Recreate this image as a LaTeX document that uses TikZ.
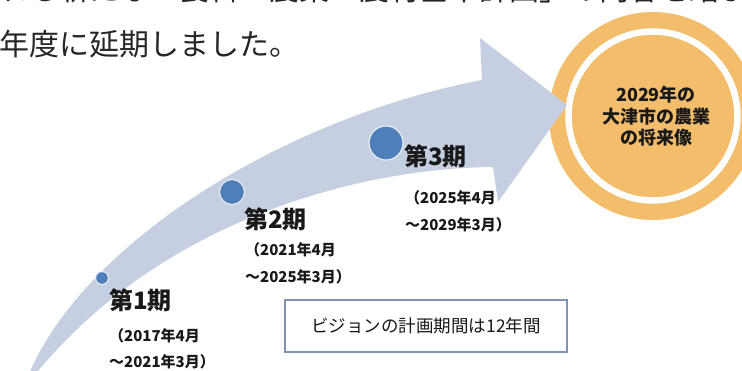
\documentclass[tikz,border=0pt]{standalone}
\usepackage{fontspec}
\setmainfont{Noto Sans CJK JP}
\definecolor{arrowc}{RGB}{197,207,225}
\definecolor{dotc}{RGB}{79,127,186}
\definecolor{orangec}{RGB}{244,189,108}
\definecolor{boxc}{RGB}{128,148,178}
\definecolor{txtc}{RGB}{25,25,25}
\tikzset{
  lbl/.style={anchor=west,inner sep=0pt,text=txtc},
  ttl/.style={lbl,font=\bfseries\fontsize{24}{24}\selectfont},
  dt/.style={lbl,font=\bfseries\fontsize{15}{15}\selectfont},
  dotst/.style={circle,fill=dotc,draw=white!85!dotc,line width=1.2pt,inner sep=0pt},
  toptxt/.style={lbl,text=black!85,font=\fontsize{30}{30}\selectfont}
}
\begin{document}
\begin{tikzpicture}[x=1pt,y=-1pt]
\useasboundingbox (0,0) rectangle (742,371);
\clip (0,0) rectangle (742,371);
\fill[white] (0,0) rectangle (742,371);
% top text
\node[toptxt] (top1) at (-1,-11) {れる新たな「食料・農業・農村基本計画」の内容を踏まえ};
\node[toptxt] (top2) at (-1,44) {年度に延期しました。};
% goal circle
\node[circle,fill=orangec,minimum size=208pt,inner sep=0pt] (goal) at (653,116) {};
\draw[white,line width=6.5pt] (goal.center) circle[radius=84.5];
% arrow
\fill[arrowc] (28,376) .. controls (85,240) and (288,117) .. (482,80)
  -- (480,38) -- (567,105) -- (498,202) -- (493,167)
  .. controls (360,168) and (160,220) .. (34,376) -- cycle;
% goal text
\node[align=center,inner sep=0pt,text=txtc,font=\bfseries\fontsize{18}{21.5}\selectfont] (goaltxt) at (656,116.5) {2029年の\\大津市の農業\\の将来像};
% dots
\node[dotst,minimum size=13pt] (p1) at (102,278) {};
\node[dotst,minimum size=25pt] (p2) at (232,192) {};
\node[dotst,minimum size=34pt] (p3) at (386,143) {};
% period labels
\node[ttl] (t1) at (109,300) {第1期};
\node[dt] (d1a) at (109,336) {（2017年4月};
\node[dt] (d1b) at (109,362) {～2021年3月）};
\node[ttl] (t2) at (244,219) {第2期};
\node[dt] (d2a) at (245,250) {（2021年4月};
\node[dt] (d2b) at (245,277) {～2025年3月）};
\node[ttl] (t3) at (404,156) {第3期};
\node[dt] (d3a) at (405,198) {（2025年4月};
\node[dt] (d3b) at (405,225) {～2029年3月）};
% box
\node[draw=boxc,fill=white,line width=1.1pt,minimum width=282pt,minimum height=52pt,inner sep=0pt,text=txtc,font=\fontsize{17.5}{17.5}\selectfont] (span) at (426,326) {ビジョンの計画期間は12年間};
\end{tikzpicture}
\end{document}
